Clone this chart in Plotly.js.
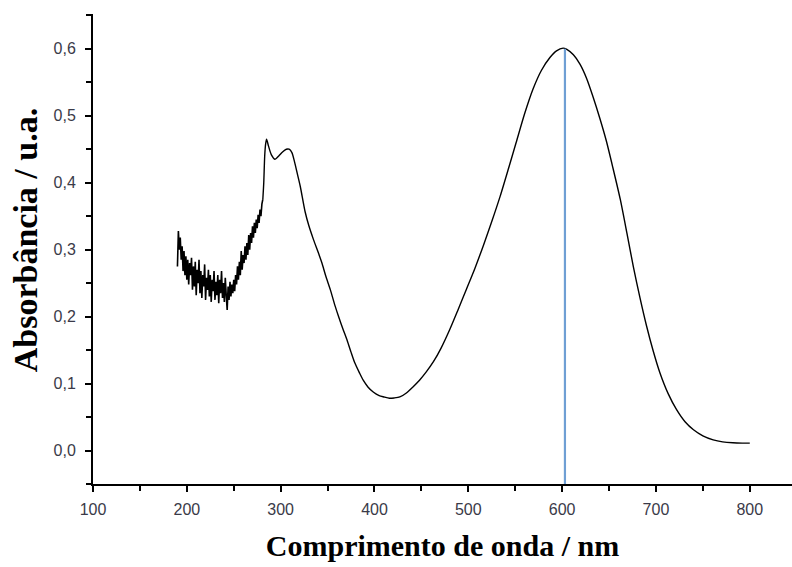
<!DOCTYPE html>
<html>
<head>
<meta charset="utf-8">
<script src="https://cdn.plot.ly/plotly-3.0.1.min.js"></script>
<style>html,body{margin:0;padding:0;background:#fff;}#chart{width:792px;height:567px;}</style>
</head>
<body>
<div id="chart"></div>
<script>
// Noisy UV region (1 nm steps, 190-281 nm)
const noisyWavelength = [];
for (let w = 190; w <= 281; w++) noisyWavelength.push(w);
const noisyAbs = [
0.275,0.328,0.300,0.318,0.285,0.305,0.268,0.298,0.262,0.290,
0.255,0.285,0.248,0.280,0.262,0.288,0.240,0.275,0.245,0.282,
0.232,0.270,0.250,0.285,0.235,0.268,0.228,0.262,0.245,0.278,
0.225,0.258,0.240,0.270,0.230,0.262,0.222,0.255,0.238,0.268,
0.225,0.252,0.232,0.262,0.220,0.255,0.235,0.268,0.228,0.250,
0.222,0.258,0.232,0.210,0.245,0.225,0.252,0.230,0.248,0.235,
0.255,0.238,0.262,0.248,0.275,0.255,0.282,0.262,0.298,0.270,
0.292,0.280,0.305,0.285,0.310,0.292,0.322,0.300,0.325,0.310,
0.335,0.318,0.340,0.325,0.345,0.332,0.352,0.340,0.360,0.350,
0.368,0.375
];
// Smooth region
const smoothWavelength = [281,282,283,284,285,287,290,294,298,302,306,309,312,315,318,321,326,330,335,340,344,348,353,358,362,366,371,375,379,384,388,393,399,405,410,416,421,427,434,441,448,455,463,471,480,489,498,507,516,525,534,543,551,560,569,578,587,594,601,605,612,619,626,633,640,647,654,662,669,676,683,690,697,704,713,722,731,740,750,761,771,782,792,800];
const smoothAbs = [0.375,0.400,0.440,0.458,0.465,0.455,0.442,0.435,0.440,0.446,0.450,0.450,0.445,0.430,0.412,0.394,0.357,0.336,0.315,0.296,0.280,0.261,0.240,0.216,0.199,0.183,0.164,0.147,0.131,0.116,0.105,0.095,0.087,0.082,0.080,0.078,0.0785,0.080,0.086,0.095,0.105,0.117,0.133,0.153,0.180,0.210,0.241,0.272,0.306,0.342,0.380,0.422,0.460,0.503,0.540,0.568,0.587,0.597,0.601,0.599,0.591,0.577,0.556,0.528,0.497,0.463,0.423,0.375,0.325,0.274,0.228,0.186,0.149,0.117,0.085,0.061,0.043,0.031,0.022,0.016,0.013,0.0115,0.011,0.011];
// Peak marker line
const peakLineX = [603, 603];
const peakLineY = [-0.05, 0.6];

const xTickVals = [100,200,300,400,500,600,700,800];
const yTickVals = [0.0,0.1,0.2,0.3,0.4,0.5,0.6];

const traces = [
  {x: noisyWavelength, y: noisyAbs, type:'scatter', mode:'lines',
   line:{color:'#000', width:1.6}, hoverinfo:'skip'},
  {x: smoothWavelength, y: smoothAbs, type:'scatter', mode:'lines',
   line:{color:'#000', width:1.4, shape:'spline', smoothing:0.7}, hoverinfo:'skip'},
  {x: peakLineX, y: peakLineY, type:'scatter', mode:'lines', line:{color:'#6f9fd4', width:2.2}, hoverinfo:'skip'}
];

const tickFont = {family:'Liberation Sans, Arial, sans-serif', size:16, color:'#3a3a48'};
const titleFontX = {family:'Liberation Serif, Times New Roman, serif', size:30, color:'#000', weight:'bold'};
const titleFontY = {family:'Liberation Serif, Times New Roman, serif', size:34, color:'#000', weight:'bold'};

const layout = {
  width:792, height:567,
  margin:{l:93, r:0, t:14, b:83},
  paper_bgcolor:'#fff', plot_bgcolor:'#fff',
  showlegend:false,
  separators:',.',
  xaxis:{
    range:[100,845], showgrid:false, zeroline:false,
    showline:true, linecolor:'#000', linewidth:2,
    ticks:'outside', ticklen:6, tickwidth:2, tickcolor:'#000',
    tickvals:xTickVals, tickfont:tickFont, ticklabelstandoff:4,
    minor:{dtick:50, tick0:100, ticks:'outside', ticklen:5, tickwidth:2, tickcolor:'#000'},
    title:{text:'Comprimento de onda / nm', font:titleFontX, standoff:18},
    automargin:false
  },
  yaxis:{
    range:[-0.05,0.652], showgrid:false, zeroline:false,
    showline:true, linecolor:'#000', linewidth:2,
    ticks:'outside', ticklen:6, tickwidth:2, tickcolor:'#000',
    tickvals:yTickVals, tickformat:'.1f', tickfont:tickFont, ticklabelstandoff:6,
    minor:{dtick:0.05, tick0:0, ticks:'outside', ticklen:5, tickwidth:2, tickcolor:'#000'},
    automargin:false
  },
  annotations:[{
    text:'Absorbância / u.a.', textangle:-90, showarrow:false,
    xref:'paper', yref:'paper', x:-0.097, y:0.519, xanchor:'center', yanchor:'middle',
    font:titleFontY
  }]
};
Plotly.newPlot('chart', traces, layout, {staticPlot:true, displayModeBar:false});
</script>
</body>
</html>
